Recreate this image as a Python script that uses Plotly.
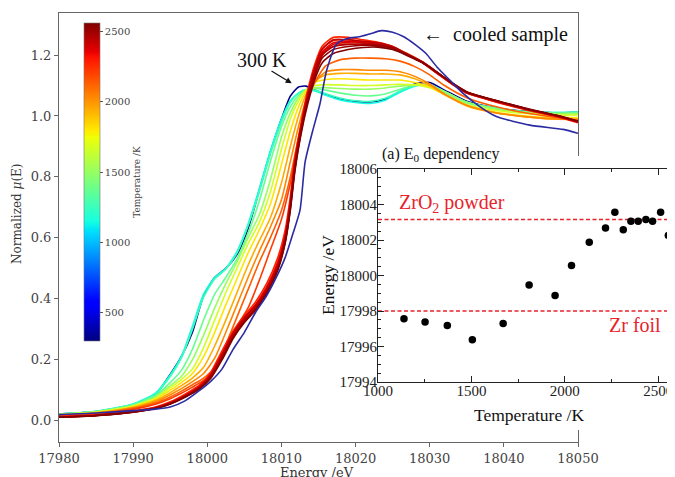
import plotly.graph_objects as go

# ---------------- main panel: normalized mu(E) spectra ----------------
TMIN, TMAX = 300, 2560          # colour-bar limits (K)
CBAR_TICKS = [500, 1000, 1500, 2000, 2500]

# common energy grid for the 300 K ... 2218 K curves (eV)
E_GRID = [17980, 17985, 17990, 17993, 17995, 17996.5, 17998, 17999.5, 18001, 18002.5,
          18004, 18005.5, 18007, 18008.5, 18010, 18011.2, 18012.3, 18013.3, 18014.5, 18016,
          18018, 18020, 18022, 18024, 18026, 18028, 18030, 18032, 18035, 18039,
          18043, 18047, 18050]

MU_300 = [0.022, 0.03, 0.052, 0.085, 0.152, 0.21, 0.29, 0.41, 0.47, 0.5,
          0.545, 0.63, 0.755, 0.88, 0.99, 1.065, 1.095, 1.098, 1.085, 1.07,
          1.055, 1.048, 1.046, 1.055, 1.08, 1.105, 1.11, 1.085, 1.048, 1.026,
          1.015, 1.01, 1.012]
MU_1139 = [0.022, 0.031, 0.055, 0.09, 0.15, 0.21, 0.31, 0.415, 0.47, 0.50,
           0.555, 0.645, 0.76, 0.885, 0.99, 1.05, 1.075, 1.085, 1.082, 1.068,
           1.052, 1.044, 1.041, 1.052, 1.078, 1.098, 1.102, 1.08, 1.044, 1.025,
           1.014, 1.011, 1.013]
MU_1252 = [0.022, 0.03, 0.054, 0.087, 0.145, 0.205, 0.30, 0.405, 0.465, 0.497,
           0.55, 0.64, 0.75, 0.875, 0.98, 1.045, 1.075, 1.087, 1.085, 1.073,
           1.058, 1.05, 1.048, 1.058, 1.082, 1.1, 1.102, 1.078, 1.043, 1.025,
           1.014, 1.011, 1.012]
MU_1371 = [0.021, 0.03, 0.052, 0.082, 0.125, 0.165, 0.235, 0.33, 0.415, 0.47,
           0.53, 0.615, 0.72, 0.85, 0.965, 1.03, 1.068, 1.085, 1.09, 1.085,
           1.075, 1.068, 1.066, 1.072, 1.088, 1.1, 1.1, 1.08, 1.046, 1.025,
           1.014, 1.01, 1.011]
MU_1505 = [0.021, 0.029, 0.05, 0.078, 0.115, 0.145, 0.2, 0.28, 0.37, 0.45,
           0.52, 0.6, 0.675, 0.79, 0.93, 1.01, 1.06, 1.085, 1.093, 1.093,
           1.09, 1.088, 1.088, 1.092, 1.098, 1.102, 1.098, 1.08, 1.045, 1.022,
           1.012, 1.007, 1.007]
MU_1670 = [0.02, 0.028, 0.048, 0.074, 0.108, 0.135, 0.17, 0.24, 0.33, 0.42,
           0.5, 0.58, 0.65, 0.75, 0.89, 0.99, 1.05, 1.085, 1.10, 1.103,
           1.102, 1.1, 1.1, 1.102, 1.104, 1.102, 1.093, 1.072, 1.038, 1.018,
           1.008, 1.003, 1.003]
MU_1809 = [0.019, 0.027, 0.046, 0.07, 0.1, 0.125, 0.155, 0.21, 0.29, 0.38,
           0.465, 0.55, 0.625, 0.71, 0.84, 0.95, 1.03, 1.08, 1.11, 1.12,
           1.122, 1.12, 1.118, 1.118, 1.118, 1.11, 1.095, 1.07, 1.035, 1.012,
           1.0, 0.995, 0.995]
MU_1948 = [0.018, 0.026, 0.044, 0.066, 0.092, 0.115, 0.14, 0.175, 0.245, 0.33,
           0.42, 0.51, 0.59, 0.665, 0.78, 0.9, 1.0, 1.07, 1.115, 1.135,
           1.14, 1.14, 1.138, 1.138, 1.135, 1.122, 1.1, 1.07, 1.033, 1.01,
           0.998, 0.99, 0.99]
MU_2036 = [0.017, 0.025, 0.042, 0.062, 0.085, 0.105, 0.128, 0.155, 0.205, 0.29,
           0.38, 0.47, 0.555, 0.635, 0.725, 0.85, 0.965, 1.05, 1.11, 1.145,
           1.152, 1.152, 1.15, 1.15, 1.145, 1.13, 1.105, 1.072, 1.035, 1.01,
           0.997, 0.99, 0.988]
MU_2131 = [0.016, 0.023, 0.04, 0.058, 0.078, 0.097, 0.118, 0.14, 0.175, 0.25,
           0.34, 0.43, 0.52, 0.6, 0.69, 0.8, 0.93, 1.03, 1.11, 1.165,
           1.185, 1.19, 1.19, 1.188, 1.18, 1.162, 1.135, 1.1, 1.06, 1.03,
           1.01, 0.995, 0.985]
MU_2218 = [0.015, 0.021, 0.037, 0.054, 0.072, 0.09, 0.11, 0.132, 0.165, 0.235,
           0.31, 0.37, 0.46, 0.56, 0.66, 0.78, 0.92, 1.04, 1.15, 1.215,
           1.235, 1.235, 1.232, 1.228, 1.215, 1.192, 1.162, 1.125, 1.08, 1.045,
           1.022, 1.0, 0.984]

# energy grid for the hottest curves (2268 ... 2554 K)
E_GRID_HOT = [17980, 17985, 17990, 17993, 17995, 17997, 17999, 18000.5, 18002, 18003.5,
              18005, 18006.5, 18008, 18009.5, 18010.5, 18011.2, 18011.8, 18012.6, 18013.5, 18014.5,
              18015.5, 18017, 18019, 18021, 18023, 18025, 18027, 18029, 18031, 18033,
              18035, 18039, 18043, 18047, 18050]

MU_2268 = [0.013, 0.019, 0.032, 0.045, 0.062, 0.087, 0.118, 0.16, 0.23, 0.295,
           0.345, 0.39, 0.45, 0.535, 0.625, 0.735, 0.86, 0.97, 1.08, 1.17,
           1.23, 1.258, 1.258, 1.25, 1.242, 1.228, 1.202, 1.175, 1.14, 1.105,
           1.075, 1.046, 1.02, 0.998, 0.978]
MU_2313 = [0.012, 0.018, 0.031, 0.043, 0.06, 0.084, 0.115, 0.155, 0.222, 0.29,
           0.34, 0.382, 0.44, 0.522, 0.612, 0.722, 0.85, 0.962, 1.07, 1.16,
           1.22, 1.248, 1.25, 1.245, 1.238, 1.226, 1.2, 1.175, 1.14, 1.106,
           1.076, 1.048, 1.022, 1.0, 0.98]
MU_2354 = [0.012, 0.018, 0.03, 0.042, 0.058, 0.082, 0.112, 0.15, 0.215, 0.285,
           0.335, 0.375, 0.43, 0.51, 0.6, 0.71, 0.84, 0.954, 1.06, 1.15,
           1.21, 1.24, 1.245, 1.24, 1.235, 1.225, 1.2, 1.175, 1.14, 1.105,
           1.075, 1.047, 1.022, 1.0, 0.98]
MU_2393 = [0.012, 0.017, 0.029, 0.041, 0.057, 0.08, 0.11, 0.147, 0.21, 0.28,
           0.33, 0.37, 0.425, 0.505, 0.595, 0.705, 0.835, 0.95, 1.055, 1.145,
           1.205, 1.235, 1.242, 1.242, 1.237, 1.226, 1.202, 1.177, 1.142, 1.107,
           1.077, 1.048, 1.023, 1.001, 0.981]
MU_2434 = [0.012, 0.018, 0.03, 0.042, 0.058, 0.082, 0.113, 0.152, 0.218, 0.288,
           0.338, 0.378, 0.433, 0.514, 0.604, 0.715, 0.845, 0.958, 1.065, 1.158,
           1.22, 1.25, 1.25, 1.245, 1.24, 1.228, 1.203, 1.178, 1.143, 1.108,
           1.078, 1.05, 1.024, 1.002, 0.982]
MU_2470 = [0.011, 0.017, 0.029, 0.041, 0.056, 0.079, 0.108, 0.145, 0.207, 0.277,
           0.328, 0.368, 0.422, 0.5, 0.59, 0.7, 0.828, 0.945, 1.05, 1.14,
           1.2, 1.228, 1.235, 1.236, 1.234, 1.224, 1.201, 1.177, 1.143, 1.108,
           1.078, 1.049, 1.023, 1.001, 0.981]
MU_2513 = [0.011, 0.017, 0.028, 0.04, 0.055, 0.078, 0.107, 0.143, 0.204, 0.274,
           0.325, 0.365, 0.42, 0.497, 0.586, 0.695, 0.822, 0.94, 1.045, 1.13,
           1.19, 1.218, 1.228, 1.232, 1.23, 1.222, 1.2, 1.176, 1.143, 1.108,
           1.078, 1.05, 1.024, 1.002, 0.982]
MU_2554 = [0.011, 0.016, 0.028, 0.04, 0.055, 0.077, 0.105, 0.14, 0.2, 0.27,
           0.322, 0.362, 0.417, 0.493, 0.582, 0.69, 0.815, 0.935, 1.035, 1.12,
           1.175, 1.205, 1.218, 1.225, 1.226, 1.218, 1.198, 1.175, 1.143, 1.109,
           1.079, 1.051, 1.025, 1.003, 0.983]

# cooled sample
E_COOLED = [17980, 17985, 17990, 17993, 17995, 17997, 17999, 18000.5, 18002, 18003.5,
            18005, 18006.5, 18008, 18009.5, 18010.5, 18011.5, 18012.5, 18013.2, 18014.2, 18015.2,
            18016.1, 18017.5, 18019, 18020.5, 18022, 18023.5, 18025, 18026.5, 18028, 18029.5,
            18031, 18032.7, 18034.5, 18036.8, 18039, 18043.5, 18048, 18050]
MU_COOLED = [0.02, 0.025, 0.033, 0.038, 0.045, 0.065, 0.1, 0.13, 0.17, 0.235,
             0.29, 0.355, 0.41, 0.48, 0.535, 0.61, 0.69, 0.85, 0.95, 1.04,
             1.15, 1.238, 1.255, 1.26, 1.27, 1.28, 1.275, 1.26, 1.235, 1.205,
             1.16, 1.118, 1.074, 1.03, 0.998, 0.97, 0.956, 0.943]

CURVES = [  # (temperature K, energies, mu)
    (300, E_GRID, MU_300), (1139, E_GRID, MU_1139), (1252, E_GRID, MU_1252),
    (1371, E_GRID, MU_1371), (1505, E_GRID, MU_1505), (1670, E_GRID, MU_1670),
    (1809, E_GRID, MU_1809), (1948, E_GRID, MU_1948), (2036, E_GRID, MU_2036),
    (2131, E_GRID, MU_2131), (2218, E_GRID, MU_2218),
    (2268, E_GRID_HOT, MU_2268), (2313, E_GRID_HOT, MU_2313), (2354, E_GRID_HOT, MU_2354),
    (2393, E_GRID_HOT, MU_2393), (2434, E_GRID_HOT, MU_2434), (2470, E_GRID_HOT, MU_2470),
    (2513, E_GRID_HOT, MU_2513), (2554, E_GRID_HOT, MU_2554),
]

# ---------------- inset: E0 vs temperature ----------------
INSET_T = [1139, 1252, 1371, 1505, 1670, 1809, 1948, 2036, 2131, 2218,
           2268, 2313, 2354, 2393, 2434, 2470, 2513, 2554]
INSET_E0 = [17997.57, 17997.38, 17997.19, 17996.38, 17997.29, 17999.46, 17998.88, 18000.57,
            18001.87, 18002.68, 18003.56, 18002.58, 18003.05, 18003.05, 18003.16, 18003.05,
            18003.56, 18002.26]
ZRO2_E0 = 18003.16
ZR_FOIL_E0 = 17998.0
INSET_XRANGE = [1000, 2590]
INSET_YRANGE = [17994, 18006]

# ---------------- styling ----------------
W, H = 675, 477
OFF = 8   # page offset of the figure inside the browser window (px)
JET_STOPS = [(0.0, (0, 0, 128)), (0.11, (0, 0, 255)), (0.125, (0, 0, 255)),
             (0.34, (0, 219, 255)), (0.35, (0, 229, 247)), (0.375, (20, 255, 226)),
             (0.64, (239, 255, 8)), (0.65, (247, 245, 0)), (0.66, (255, 236, 0)),
             (0.89, (255, 19, 0)), (0.91, (232, 0, 0)), (1.0, (128, 0, 0))]
COLORSCALE = [[t, 'rgb(%d,%d,%d)' % c] for t, c in JET_STOPS]


def jet(t):
    t = min(max(t, 0.0), 1.0)
    for (t0, c0), (t1, c1) in zip(JET_STOPS[:-1], JET_STOPS[1:]):
        if t <= t1:
            f = 0.0 if t1 == t0 else (t - t0) / (t1 - t0)
            return 'rgb(%d,%d,%d)' % tuple(round(a + (b - a) * f) for a, b in zip(c0, c1))
    return 'rgb(128,0,0)'


def px(x):
    return (x - OFF) / W


def py(y):
    return 1 - (y - OFF) / H


RED = '#e8232b'
SERIF_MAIN = 'DejaVu Serif'
SERIF_INSET = 'Liberation Serif'

fig = go.Figure()

for T, E, MU in CURVES:
    assert len(E) == len(MU), T
    fig.add_trace(go.Scatter(
        x=E, y=MU, mode='lines', xaxis='x', yaxis='y',
        line=dict(color=jet((T - TMIN) / (TMAX - TMIN)), width=1.6, shape='spline', smoothing=0.6),
        showlegend=False, hoverinfo='skip'))

assert len(E_COOLED) == len(MU_COOLED)
fig.add_trace(go.Scatter(
    x=E_COOLED, y=MU_COOLED, mode='lines', xaxis='x', yaxis='y',
    line=dict(color='#2a2aa2', width=1.6, shape='spline', smoothing=0.6),
    showlegend=False, hoverinfo='skip'))

# colour bar carrier
fig.add_trace(go.Scatter(
    x=[None], y=[None], mode='markers', xaxis='x', yaxis='y',
    marker=dict(color=[TMIN], colorscale=COLORSCALE, cmin=TMIN, cmax=TMAX, showscale=True,
                colorbar=dict(x=px(84), xanchor='left', y=py(23), yanchor='top',
                              len=318 / H, lenmode='fraction', thickness=16, thicknessmode='pixels',
                              xpad=0, ypad=0, outlinewidth=0.6, outlinecolor='#777',
                              tickvals=CBAR_TICKS, ticks='outside', ticklen=3, tickwidth=0.8,
                              tickcolor='#555',
                              tickfont=dict(family=SERIF_MAIN, size=10, color='#444'),
                              title=dict(text='Temperature /K', side='right',
                                         font=dict(family=SERIF_MAIN, size=9, color='#444')))),
    showlegend=False, hoverinfo='skip'))

# white cover panel behind the inset (hides main frame there)
fig.add_trace(go.Scatter(x=[None], y=[None], xaxis='x2', yaxis='y2', mode='markers',
                         showlegend=False, hoverinfo='skip'))

# inset points
fig.add_trace(go.Scatter(x=INSET_T, y=INSET_E0, mode='markers', xaxis='x3', yaxis='y3',
                         marker=dict(color='black', size=7.5), showlegend=False, hoverinfo='skip'))

for yv in (ZRO2_E0, ZR_FOIL_E0):
    fig.add_shape(type='line', xref='x3', yref='y3', x0=INSET_XRANGE[0], x1=INSET_XRANGE[1],
                  y0=yv, y1=yv, layer='below', line=dict(color=RED, width=1.5, dash='4px,2.5px'))

main_axis = dict(showline=True, mirror=True, linecolor='#666', linewidth=1, ticks='outside',
                 ticklen=4, tickcolor='#666', tickwidth=1, showgrid=False, zeroline=False,
                 automargin=False,
                 tickfont=dict(family=SERIF_MAIN, size=13, color='#444'))
inset_axis = dict(showline=True, mirror='allticks', linecolor='#222', linewidth=1, ticks='inside',
                  ticklen=6, tickcolor='#222', tickwidth=1, showgrid=False, zeroline=False,
                  automargin=False,
                  tickformat='d', tickfont=dict(family=SERIF_INSET, size=15, color='#222'))

fig.update_layout(
    width=W, height=H, margin=dict(l=0, r=0, t=0, b=0, autoexpand=False),
    paper_bgcolor='white', plot_bgcolor='white', showlegend=False,
    xaxis=dict(domain=[px(59), px(578)], range=[17980, 18050], tick0=17980, dtick=10,
               tickformat='d', anchor='y', **main_axis),
    yaxis=dict(domain=[py(442), py(13)], range=[-0.07, 1.338], tick0=0, dtick=0.2,
               tickformat='.1f', anchor='x', **main_axis),
    xaxis2=dict(domain=[px(318), 1.0], range=[0, 1], visible=False, anchor='y2'),
    yaxis2=dict(domain=[py(430), py(156)], range=[0, 1], visible=False, anchor='x2'),
    xaxis3=dict(domain=[px(378), px(675)], range=INSET_XRANGE, tick0=1000, dtick=500, anchor='y3',
                ticklabelstandoff=-5,
                minor=dict(dtick=250, ticks='inside', ticklen=3, tickcolor='#222'), **inset_axis),
    yaxis3=dict(domain=[py(382), py(169)], range=INSET_YRANGE, tick0=17994, dtick=2, anchor='x3',
                ticklabelstandoff=-3,
                minor=dict(dtick=0.5, ticks='inside', ticklen=3, tickcolor='#222'), **inset_axis),
)

ann = [
    dict(text='300 K', x=px(262), y=py(60), font=dict(family=SERIF_INSET, size=20, color='#111')),
    dict(text='\u2190  cooled sample', x=px(570), y=py(35), xanchor='right',
         font=dict(family=SERIF_INSET, size=20, color='#111')),
    dict(text='(a) E<sub>0</sub> dependency', x=px(380), y=py(155), xanchor='left',
         font=dict(family=SERIF_INSET, size=16, color='#111')),
    dict(text='ZrO<sub>2</sub> powder', x=px(397), y=py(203), xanchor='left',
         font=dict(family=SERIF_INSET, size=20, color=RED)),
    dict(text='Zr foil', x=px(663), y=py(325), xanchor='right',
         font=dict(family=SERIF_INSET, size=20, color=RED)),
    dict(text='Energy /eV', x=px(328), y=py(275), textangle=-90,
         font=dict(family=SERIF_INSET, size=17.5, color='#111')),
    dict(text='Temperature /K', x=px(529), y=py(415),
         font=dict(family=SERIF_INSET, size=17.5, color='#111')),
    dict(text='Energy /eV', x=px(317), y=py(463), yanchor='top',
         font=dict(family=SERIF_MAIN, size=13, color='#333')),
    dict(text='Normalized <i>\u03bc</i>(E)', x=px(17), y=py(214), textangle=-90,
         font=dict(family=SERIF_MAIN, size=12, color='#333')),
]
for a in ann:
    a.setdefault('xanchor', 'center')
    a.setdefault('yanchor', 'middle')
    fig.add_annotation(xref='paper', yref='paper', showarrow=False, **a)

# arrow pointing at the 300 K white-line peak
fig.add_annotation(xref='paper', yref='paper', x=px(291.7), y=py(83.3), ax=-21.7, ay=-13.3,
                   axref='pixel', ayref='pixel', text='', showarrow=True, arrowhead=2,
                   arrowsize=1, arrowwidth=1.2, arrowcolor='#111', standoff=0)

fig.write_html('out.html')
